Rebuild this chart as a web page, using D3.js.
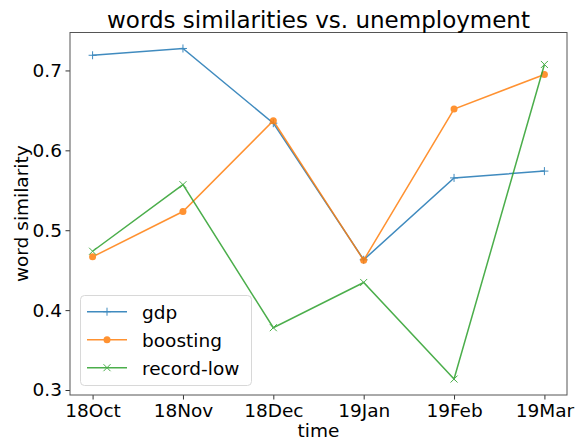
<!DOCTYPE html>
<html>
<head>
<meta charset="utf-8">
<script src="https://cdn.jsdelivr.net/npm/d3@7"></script>
<style>
  body { margin: 0; background: #fff; }
  text { font-family: "DejaVu Sans", sans-serif; }
</style>
</head>
<body>
<div id="chart"></div>
<script>
let months = ["18Oct", "18Nov", "18Dec", "19Jan", "19Feb", "19Mar"];
let gdp = [0.719, 0.7275, 0.634, 0.463, 0.5655, 0.574];
let boosting = [0.4667, 0.5234, 0.637, 0.4625, 0.6517, 0.695];
let recordLow = [0.4737, 0.557, 0.378, 0.4346, 0.3137, 0.7075];
let yTicks = [0.3, 0.4, 0.5, 0.6, 0.7];

function init() {
    let width = 582;
    let height = 442;
    let left = 70, right = 567, top = 32.5, bottom = 395;

    let svg = d3.select("#chart")
        .append("svg")
        .attr("width", width)
        .attr("height", height);

    let series = [
        { name: "gdp", values: gdp, color: "#1f77b4", marker: "plus" },
        { name: "boosting", values: boosting, color: "#ff7f0e", marker: "circle" },
        { name: "record-low", values: recordLow, color: "#2ca02c", marker: "cross" }
    ];

    let xScale = d3.scaleLinear()
        .domain([-0.25, months.length - 0.75])
        .range([left, right]);
    let yScale = d3.scaleLinear()
        .domain([0.29375, 0.7475])
        .range([bottom, top]);

    // axes
    let xAxis = svg.append("g")
        .attr("transform", "translate(0," + bottom + ")")
        .call(d3.axisBottom(xScale)
            .tickValues(d3.range(months.length))
            .tickFormat(i => months[i])
            .tickSize(4.5).tickPadding(4));
    let yAxis = svg.append("g")
        .attr("transform", "translate(" + left + ",0)")
        .call(d3.axisLeft(yScale)
            .tickValues(yTicks)
            .tickFormat(d3.format(".1f"))
            .tickSize(4.5).tickPadding(3.5));
    [xAxis, yAxis].forEach(function (g) {
        g.select(".domain").remove();
        g.selectAll("line").attr("stroke", "#333").attr("stroke-width", 1);
        g.selectAll("text").attr("fill", "#000").style("font-size", "18.5px")
            .style("font-family", "DejaVu Sans");
    });

    // frame
    svg.append("rect")
        .attr("x", left).attr("y", top)
        .attr("width", right - left).attr("height", bottom - top)
        .attr("fill", "none").attr("stroke", "#555").attr("stroke-width", 1);

    let line = d3.line()
        .x((d, i) => xScale(i))
        .y(d => yScale(d));

    function drawMarker(g, type, x, y, color) {
        if (type == "circle") {
            g.append("circle").attr("cx", x).attr("cy", y).attr("r", 3.5)
                .attr("fill", color);
        } else if (type == "plus") {
            g.append("path")
                .attr("d", "M" + (x - 4) + "," + y + "H" + (x + 4) + "M" + x + "," + (y - 4) + "V" + (y + 4))
                .attr("stroke", color).attr("stroke-width", 1).attr("fill", "none");
        } else {
            g.append("path")
                .attr("d", "M" + (x - 3.5) + "," + (y - 3.5) + "L" + (x + 3.5) + "," + (y + 3.5) +
                    "M" + (x - 3.5) + "," + (y + 3.5) + "L" + (x + 3.5) + "," + (y - 3.5))
                .attr("stroke", color).attr("stroke-width", 1).attr("fill", "none");
        }
    }

    series.forEach(function (s) {
        let g = svg.append("g").attr("opacity", 0.85);
        g.append("path")
            .datum(s.values)
            .attr("fill", "none")
            .attr("stroke", s.color)
            .attr("stroke-width", 1.5)
            .attr("d", line);
        s.values.forEach(function (v, i) {
            drawMarker(g, s.marker, xScale(i), yScale(v), s.color);
        });
    });

    // title and labels
    svg.append("text")
        .attr("x", (left + right) / 2).attr("y", 28)
        .attr("text-anchor", "middle")
        .style("font-size", "23px")
        .text("words similarities vs. unemployment");
    svg.append("text")
        .attr("x", (left + right) / 2).attr("y", 437)
        .attr("text-anchor", "middle")
        .style("font-size", "18.5px")
        .text("time");
    svg.append("text")
        .attr("transform", "translate(28," + ((top + bottom) / 2) + ") rotate(-90)")
        .attr("text-anchor", "middle")
        .style("font-size", "18.5px")
        .text("word similarity");

    // legend
    let legend = svg.append("g");
    legend.append("rect")
        .attr("x", 80.5).attr("y", 295.5)
        .attr("width", 171).attr("height", 90)
        .attr("rx", 4)
        .attr("fill", "#fff").attr("fill-opacity", 0.8)
        .attr("stroke", "#d8d8d8").attr("stroke-width", 1);
    series.forEach(function (s, i) {
        let y = 311.7 + i * 28;
        let g = legend.append("g").attr("opacity", 0.85);
        g.append("line")
            .attr("x1", 87).attr("x2", 127).attr("y1", y).attr("y2", y)
            .attr("stroke", s.color).attr("stroke-width", 1.5);
        drawMarker(g, s.marker, 107, y, s.color);
        legend.append("text")
            .attr("x", 142).attr("y", y + 7)
            .style("font-size", "18.5px")
            .text(s.name);
    });
}

window.addEventListener('load', init);
</script>
</body>
</html>
